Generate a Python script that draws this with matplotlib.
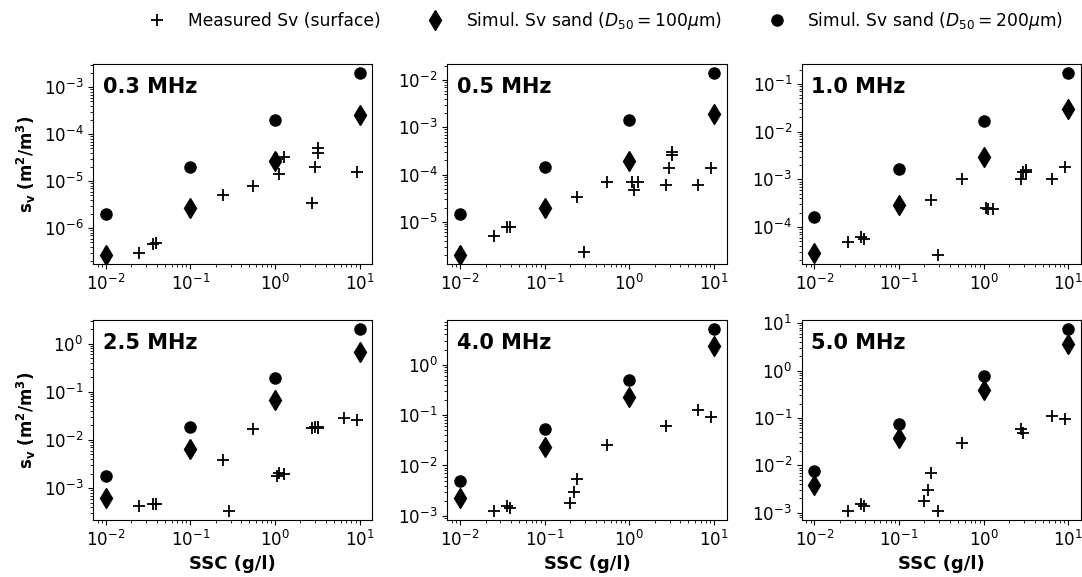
import numpy as np
import matplotlib
matplotlib.use("Agg")
import matplotlib.pyplot as plt

nan = np.nan

freqs = ["0.3 MHz", "0.5 MHz", "1.0 MHz", "2.5 MHz", "4.0 MHz", "5.0 MHz"]

# measured surface samples (same SSC for every frequency, nan = no value)
ssc_meas = [0.025, 0.036, 0.039, 0.20, 0.22, 0.24, 0.29, 0.55, 1.07, 1.13, 1.28,
            2.75, 2.95, 3.2, 3.2, 6.5, 9.2]
sv_03 = [2.9e-7, 4.5e-7, 4.9e-7, nan, nan, 5.2e-6, nan, 8.1e-6, 2.9e-5, 1.45e-5, 3.3e-5,
         3.5e-6, 2.0e-5, 3.9e-5, 5.0e-5, nan, 1.6e-5]
sv_05 = [4.9e-6, 7.6e-6, 7.6e-6, nan, nan, 3.4e-5, 2.3e-6, 6.8e-5, 6.8e-5, 4.8e-5, 6.8e-5,
         6.0e-5, 1.35e-4, 2.6e-4, 3.0e-4, 6.0e-5, 1.4e-4]
sv_10 = [4.8e-5, 6.3e-5, 5.6e-5, nan, nan, 3.7e-4, 2.6e-5, 1.02e-3, 2.5e-4, 2.4e-4, 2.4e-4,
         1.0e-3, 1.4e-3, 1.4e-3, 1.6e-3, 1.0e-3, 1.8e-3]
sv_25 = [4.2e-4, 4.7e-4, 4.7e-4, nan, nan, 3.8e-3, 3.4e-4, 0.017, 1.8e-3, 2.1e-3, 2.0e-3,
         0.0178, 0.019, 0.018, 0.0185, 0.029, 0.026]
sv_40 = [1.26e-3, 1.58e-3, 1.4e-3, 1.84e-3, 3.0e-3, 5.5e-3, nan, 0.025, nan, nan, nan,
         0.062, nan, nan, nan, 0.129, 0.091]
sv_50 = [1.1e-3, 1.5e-3, 1.4e-3, 1.8e-3, 3.0e-3, 6.8e-3, 1.1e-3, 0.030, nan, nan, nan,
         0.059, 0.048, nan, nan, 0.112, 0.095]

# simulated sand
ssc_sim = [0.01, 0.1, 1, 10]
sim100 = [
    [2.7e-7, 2.7e-6, 2.7e-5, 2.6e-4],
    [2.0e-6, 2.0e-5, 1.95e-4, 1.9e-3],
    [2.8e-5, 2.9e-4, 2.9e-3, 3.0e-2],
    [6.3e-4, 6.5e-3, 0.066, 0.68],
    [2.3e-3, 0.023, 0.23, 2.3],
    [3.8e-3, 0.038, 0.38, 3.7],
]
sim200 = [
    [2.0e-6, 2.0e-5, 2.0e-4, 2.0e-3],
    [1.45e-5, 1.43e-4, 1.43e-3, 1.4e-2],
    [1.66e-4, 1.66e-3, 1.7e-2, 0.17],
    [1.8e-3, 0.019, 0.195, 2.0],
    [4.9e-3, 0.052, 0.50, 5.1],
    [7.5e-3, 0.076, 0.76, 7.5],
]
meas = [sv_03, sv_05, sv_10, sv_25, sv_40, sv_50]

fig, axes = plt.subplots(2, 3, figsize=(10.82, 5.77), dpi=100)
plt.subplots_adjust(left=0.086, right=0.999, top=0.889, bottom=0.099,
                    wspace=0.269, hspace=0.28)

for i, ax in enumerate(axes.flat):
    l1, = ax.plot(ssc_meas, meas[i], '+', color='k', ms=8, mew=1.3,
                  label='Measured Sv (surface)')
    l2, = ax.plot(ssc_sim, sim100[i], 'd', color='k', ms=10,
                  label=r'Simul. Sv sand ($D_{50} = 100\mu$m)')
    l3, = ax.plot(ssc_sim, sim200[i], 'o', color='k', ms=8,
                  label=r'Simul. Sv sand ($D_{50} = 200\mu$m)')
    ax.set_xscale('log')
    ax.set_yscale('log')
    ax.tick_params(labelsize=12)
    ax.text(0.035, 0.885, freqs[i], transform=ax.transAxes, fontsize=15,
            fontweight='bold', va='center', ha='left')
    if i % 3 == 0:
        ax.set_ylabel(r'$\mathbf{s_v}$ $\mathbf{(m^2/m^3)}$', fontsize=12)
    if i >= 3:
        ax.set_xlabel('SSC (g/l)', fontsize=13, fontweight='bold')

fig.legend(handles=[l1, l2, l3], loc='upper center', ncol=3, frameon=False,
           fontsize=12.3, columnspacing=2.2, borderpad=0, borderaxespad=0,
           bbox_to_anchor=(0.556, 0.983))

plt.savefig('out.png', dpi=100)
